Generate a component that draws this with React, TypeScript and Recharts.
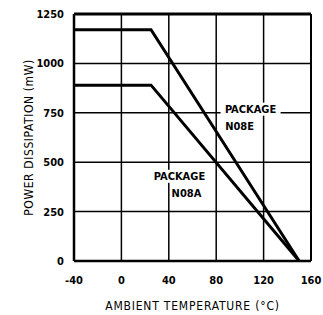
import React from 'react';
import {
  LineChart,
  Line,
  XAxis,
  YAxis,
  CartesianGrid,
  ReferenceLine,
  ReferenceDot,
} from 'recharts';

const temps = [-40, 25, 150];
const n08e = [1170, 1170, 0];
const n08a = [890, 890, 0];

const xTicks = [-40, 0, 40, 80, 120, 160];
const yTicks = [0, 250, 500, 750, 1000, 1250];

const FONT = '"DejaVu Sans Condensed", "DejaVu Sans", sans-serif';

const data = temps.map((t, i) => ({ t, n08e: n08e[i], n08a: n08a[i] }));

// two-line package label, white box behind first line so it cuts the grid
function PkgLabel(props: any) {
  const { viewBox, lines, dx2 = 0 } = props;
  if (!viewBox) return null;
  const { x, y } = viewBox;
  return (
    <g fontFamily={FONT} fontWeight="bold" fontSize={11} fill="#000">
      <rect x={x - 30} y={y - 7} width={60} height={13} fill="#fff" />
      <text x={x} y={y} textAnchor="middle" dominantBaseline="central">
        {lines[0]}
      </text>
      <text x={x + dx2} y={y + 17} textAnchor="middle" dominantBaseline="central">
        {lines[1]}
      </text>
    </g>
  );
}

export default function App() {
  const tickStyle = { fontFamily: FONT, fontSize: 11, fontWeight: 'bold', fill: '#000' };
  const titleStyle = { fontFamily: FONT, fontSize: 12, fill: '#000', letterSpacing: 0.8 };
  return (
    <div style={{ position: 'absolute', left: 0, top: 0, background: '#fff' }}>
      <LineChart width={323} height={315} data={data} margin={{ top: 14, right: 12, bottom: 5, left: 0 }}>
        <CartesianGrid stroke="#000" strokeWidth={1.5} />
        <XAxis
          dataKey="t"
          type="number"
          domain={[-40, 160]}
          ticks={xTicks}
          height={49}
          tick={tickStyle}
          tickLine={false}
          axisLine={{ stroke: '#000', strokeWidth: 2.5 }}
          tickMargin={9}
          label={{
            value: 'AMBIENT TEMPERATURE (°C)',
            position: 'insideBottom',
            offset: 0,
            style: titleStyle,
          }}
        />
        <YAxis
          type="number"
          domain={[0, 1250]}
          ticks={yTicks}
          width={74}
          tick={tickStyle}
          tickLine={false}
          axisLine={{ stroke: '#000', strokeWidth: 2.5 }}
          tickMargin={4}
          label={{
            value: 'POWER DISSIPATION (mW)',
            angle: -90,
            position: 'insideLeft',
            offset: 29,
            style: { ...titleStyle, letterSpacing: 0.6, textAnchor: 'middle' },
          }}
        />
        <ReferenceLine y={1250} stroke="#000" strokeWidth={3} />
        <ReferenceLine x={160} stroke="#000" strokeWidth={2} />
        <Line
          type="linear"
          dataKey="n08e"
          stroke="#000"
          strokeWidth={3}
          dot={false}
          isAnimationActive={false}
        />
        <Line
          type="linear"
          dataKey="n08a"
          stroke="#000"
          strokeWidth={3}
          dot={false}
          isAnimationActive={false}
        />
        <ReferenceDot
          x={109}
          y={766}
          r={0}
          stroke="none"
          label={<PkgLabel lines={['PACKAGE', 'N08E']} dx2={-11} />}
        />
        <ReferenceDot
          x={49}
          y={426}
          r={0}
          stroke="none"
          label={<PkgLabel lines={['PACKAGE', 'N08A']} dx2={7} />}
        />
      </LineChart>
    </div>
  );
}
